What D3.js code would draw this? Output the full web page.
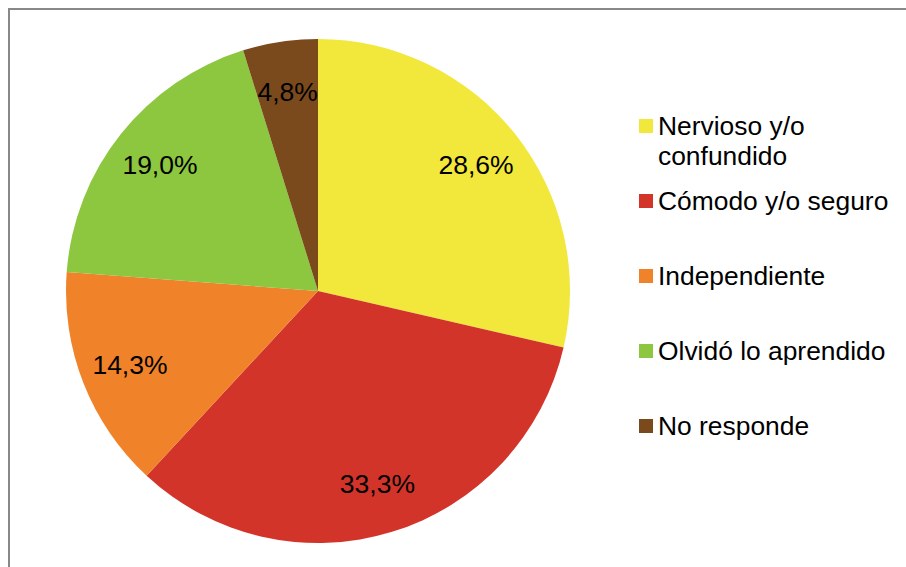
<!DOCTYPE html>
<html><head><meta charset="utf-8">
<script src="https://cdn.jsdelivr.net/npm/d3@7"></script>
<style>html,body{margin:0;padding:0;background:#fff;overflow:hidden}</style>
</head><body>
<svg id="chart" width="906" height="567"></svg>
<script>
const categories = ["Nervioso y/o confundido", "Cómodo y/o seguro", "Independiente", "Olvidó lo aprendido", "No responde"];
const legendLines = [["Nervioso y/o", "confundido"], ["Cómodo y/o seguro"], ["Independiente"], ["Olvidó lo aprendido"], ["No responde"]];
const values = [28.6, 33.3, 14.3, 19.0, 4.8];
const valueLabels = ["28,6%", "33,3%", "14,3%", "19,0%", "4,8%"];
const colors = ["#F2E73B", "#D3342A", "#F08229", "#8DC63F", "#7A4A1D"];

const svg = d3.select("#chart");
const font = "'Liberation Sans', Arial, sans-serif";

svg.append("rect").attr("x", 9).attr("y", 9).attr("width", 920).attr("height", 600)
  .attr("fill", "none").attr("stroke", "#888").attr("stroke-width", 2);

const cx = 318, cy = 291, R = 252;
const g = svg.append("g").attr("transform", `translate(${cx},${cy})`);
const pie = d3.pie().sort(null).value(d => d);
const arcs = pie(values);
const arc = d3.arc().innerRadius(0).outerRadius(R);
g.selectAll("path").data(arcs).join("path")
  .attr("d", arc).attr("fill", (d, i) => colors[i]);

const labelArc = d3.arc().innerRadius(202).outerRadius(202);
g.selectAll("text.lbl").data(arcs).join("text").attr("class", "lbl")
  .attr("transform", d => `translate(${labelArc.centroid(d)})`)
  .attr("text-anchor", "middle").attr("dy", "0.35em")
  .attr("font-family", font).attr("font-size", 26.5).attr("fill", "#000")
  .text((d, i) => valueLabels[i]);

const legendY = d3.scalePoint().domain(categories).range([135, 435]);
const lg = svg.append("g");
categories.forEach((c, i) => {
  const y = legendY(c);
  lg.append("rect").attr("x", 639).attr("y", y - 16).attr("width", 14).attr("height", 14).attr("fill", colors[i]);
  const t = lg.append("text").attr("x", 658).attr("y", y)
    .attr("font-family", font).attr("font-size", 26.4).attr("fill", "#000");
  legendLines[i].forEach((ln, j) => {
    t.append("tspan").attr("x", 658).attr("y", y + j * 30).text(ln);
  });
});
</script>
</body></html>
